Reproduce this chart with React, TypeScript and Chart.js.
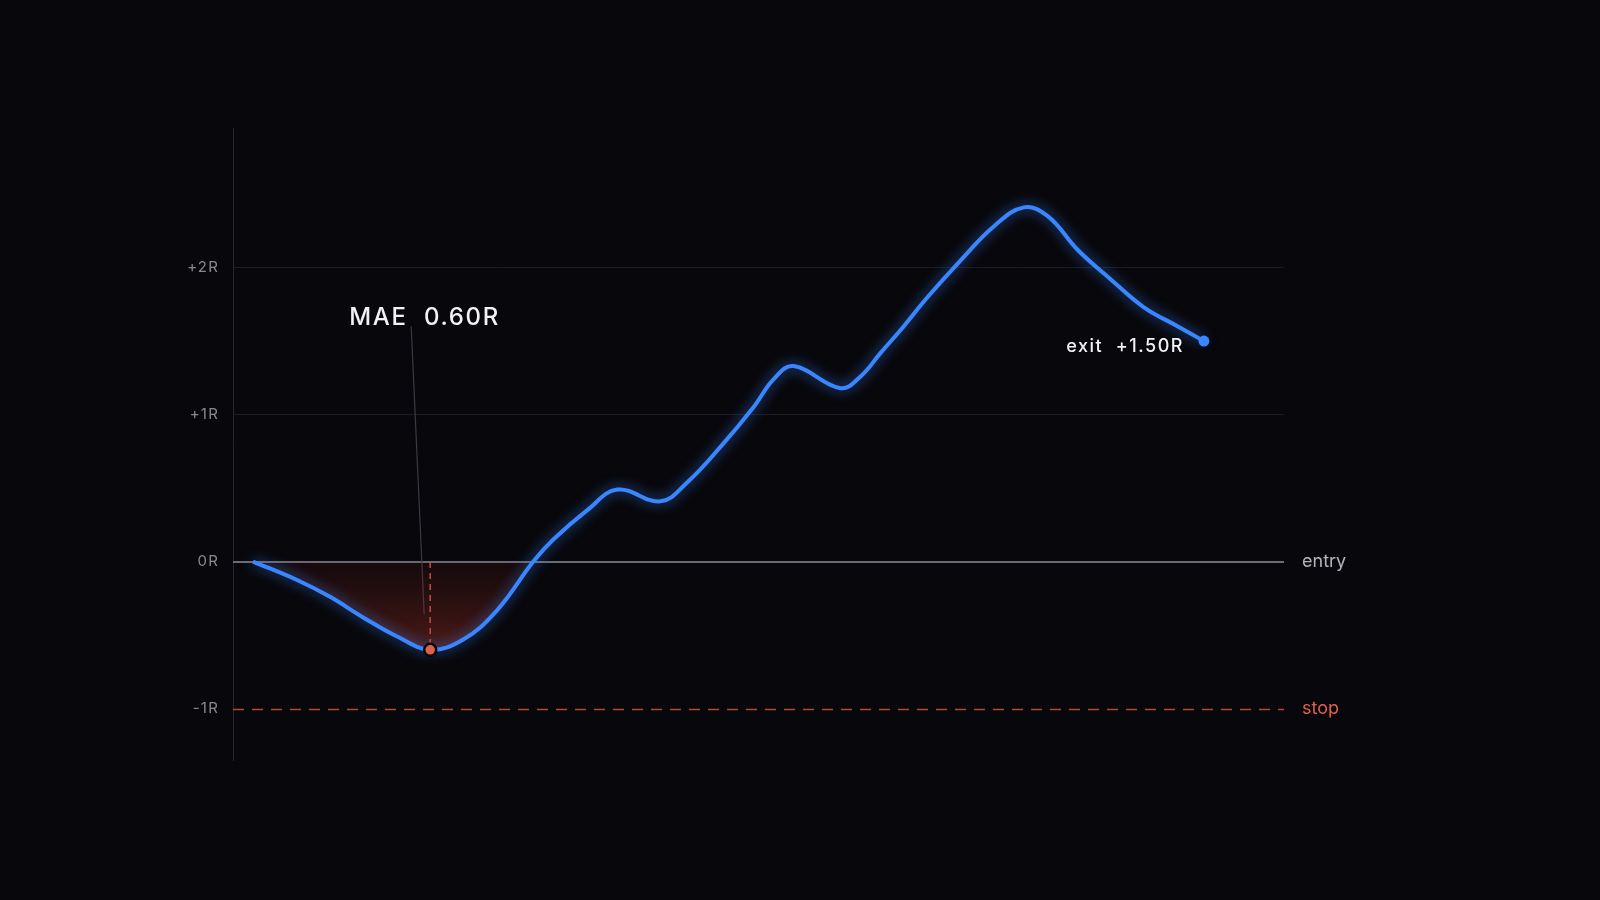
import React, { useEffect, useRef } from 'react';
import { Chart, registerables } from 'chart.js';

Chart.register(...registerables);

// Time axis (arbitrary units, trade progress) and R-multiple path
const times = [0, 4.4, 7.7, 11, 14.4, 17.7, 21, 24.4, 28, 30, 33.4, 36.4, 40.7, 43.4, 46.7, 50, 52, 54, 58.7, 60.7, 62.7, 65, 67.4, 70.7, 74, 77, 79.4, 82.4, 85.7, 89, 92.4, 95];
const rValues = [0, -0.125, -0.24, -0.38, -0.51, -0.6, -0.53, -0.33, 0, 0.15, 0.35, 0.49, 0.41, 0.54, 0.78, 1.05, 1.24, 1.33, 1.18, 1.26, 1.42, 1.6, 1.8, 2.05, 2.28, 2.41, 2.35, 2.12, 1.92, 1.73, 1.6, 1.5];

const yTickValues = [-1, 0, 1, 2];
const yTickLabels = ['-1R', '0R', '+1R', '+2R'];
const entryLevel = 0;
const stopLevel = -1;
const entryLabel = 'entry';
const stopLabel = 'stop';
const maeLabel = 'MAE  0.60R';
const exitLabel = 'exit  +1.50R';

const BG = '#08070b';
const BLUE = '#3a86ff';
const RED = '#e0604a';
const FONT = 'Inter, "Noto Sans", sans-serif';

export default function App() {
  const ref = useRef<HTMLCanvasElement | null>(null);

  useEffect(() => {
    const canvas = ref.current;
    if (!canvas) return;

    const pts = times.map((t, i) => ({ x: t, y: rValues[i] }));
    let minIdx = 0;
    rValues.forEach((v, i) => { if (v < rValues[minIdx]) minIdx = i; });
    const lastIdx = rValues.length - 1;
    const maePt = pts[minIdx];
    const exitPt = pts[lastIdx];

    const spacingPlugin = {
      id: 'spacing',
      beforeDraw(chart: any) { chart.ctx.save(); chart.ctx.letterSpacing = '1.2px'; },
      beforeDatasetsDraw(chart: any) { chart.ctx.restore(); },
    };

    const glowPlugin = {
      id: 'glow',
      beforeDatasetDraw(chart: any, args: any) {
        if (args.index === 0) {
          const ctx = chart.ctx;
          ctx.save();
          ctx.shadowColor = 'rgba(58,134,255,0.8)';
          ctx.shadowBlur = 13;
        }
      },
      afterDatasetDraw(chart: any, args: any) {
        if (args.index === 0) chart.ctx.restore();
      },
    };

    const annoPlugin = {
      id: 'anno',
      beforeDatasetsDraw(chart: any) {
        const { ctx, chartArea, scales } = chart;
        const x = scales.x, y = scales.y;
        ctx.save();
        // entry line
        const yE = Math.round(y.getPixelForValue(entryLevel));
        ctx.strokeStyle = '#6c6c76';
        ctx.lineWidth = 2;
        ctx.beginPath();
        ctx.moveTo(chartArea.left, yE);
        ctx.lineTo(chartArea.right, yE);
        ctx.stroke();
        // stop line
        const yS = Math.round(y.getPixelForValue(stopLevel)) + 0.5;
        ctx.strokeStyle = '#b4463a';
        ctx.lineWidth = 1.5;
        ctx.setLineDash([11, 8]);
        ctx.beginPath();
        ctx.moveTo(chartArea.left, yS);
        ctx.lineTo(chartArea.right, yS);
        ctx.stroke();
        // MAE vertical dashed
        const xm = x.getPixelForValue(maePt.x);
        ctx.strokeStyle = '#d05a44';
        ctx.lineWidth = 1.5;
        ctx.setLineDash([6, 5]);
        ctx.beginPath();
        ctx.moveTo(xm, yE);
        ctx.lineTo(xm, y.getPixelForValue(maePt.y));
        ctx.stroke();
        ctx.setLineDash([]);
        // leader line
        ctx.strokeStyle = '#3a3a44';
        ctx.lineWidth = 1.2;
        ctx.beginPath();
        ctx.moveTo(xm - 19, y.getPixelForValue(1.6));
        ctx.lineTo(xm - 6, y.getPixelForValue(-0.36));
        ctx.stroke();
        ctx.restore();
      },
      afterDatasetsDraw(chart: any) {
        const { ctx, chartArea, scales } = chart;
        const x = scales.x, y = scales.y;
        ctx.save();
        ctx.textBaseline = 'middle';
        ctx.textAlign = 'left';
        ctx.font = `400 18px ${FONT}`;
        ctx.fillStyle = '#b4b4bc';
        ctx.fillText(entryLabel, chartArea.right + 18, y.getPixelForValue(entryLevel));
        ctx.fillStyle = RED;
        ctx.fillText(stopLabel, chartArea.right + 18, y.getPixelForValue(stopLevel));
        // MAE label
        const xm = x.getPixelForValue(maePt.x);
        ctx.font = `500 24px ${FONT}`;
        (ctx as any).letterSpacing = '1.7px';
        ctx.fillStyle = '#f2f2f4';
        ctx.fillText(maeLabel, xm - 81, y.getPixelForValue(1.66));
        // exit label
        const xe = x.getPixelForValue(exitPt.x);
        ctx.font = `500 18px ${FONT}`;
        (ctx as any).letterSpacing = '1.5px';
        ctx.textAlign = 'right';
        ctx.fillText(exitLabel, xe - 20, y.getPixelForValue(exitPt.y) + 5);
        ctx.restore();
      },
    };

    const chart = new Chart(canvas, {
      type: 'line',
      data: {
        datasets: [
          {
            data: pts,
            borderColor: BLUE,
            borderWidth: 4,
            pointRadius: 0,
            tension: 0.4,
            fill: { target: { value: 0 }, above: 'rgba(0,0,0,0)', below: 'rgba(150,45,35,0.25)' },
            order: 2,
          } as any,
          {
            data: [maePt],
            pointRadius: 6,
            pointBackgroundColor: RED,
            pointBorderColor: BG,
            pointBorderWidth: 2.5,
            showLine: false,
            order: 1,
          },
          {
            data: [exitPt],
            pointRadius: 5.5,
            pointBackgroundColor: BLUE,
            pointBorderWidth: 0,
            showLine: false,
            order: 1,
          },
        ],
      },
      options: {
        responsive: false,
        animation: false,
        layout: { padding: { left: 0, right: 316, top: 128, bottom: 140 } },
        plugins: { legend: { display: false }, tooltip: { enabled: false } },
        scales: {
          x: { type: 'linear', min: -2, max: 103, display: false },
          y: {
            type: 'linear',
            min: -1.35,
            max: 2.95,
            afterFit(scale: any) { scale.width = 233; },
            afterBuildTicks(scale: any) { scale.ticks = yTickValues.map((v) => ({ value: v })); },
            ticks: {
              padding: 14,
              color: '#88888f',
              font: { family: FONT, size: 15 },
              callback: (v: any) => {
                const i = yTickValues.indexOf(Number(v));
                return i >= 0 ? yTickLabels[i] : '';
              },
            },
            grid: {
              drawTicks: false,
              lineWidth: 1,
              color: (c: any) => (c.tick && (c.tick.value === 0 || c.tick.value === -1) ? 'rgba(0,0,0,0)' : '#1c1c22'),
            },
            border: { display: true, color: '#26262e', width: 1 },
          },
        },
      },
      plugins: [spacingPlugin, glowPlugin, annoPlugin],
    } as any);

    // gradient for the drawdown fill
    const ctx = canvas.getContext('2d')!;
    const y0 = chart.scales.y.getPixelForValue(0);
    const y1 = chart.scales.y.getPixelForValue(maePt.y);
    const g = ctx.createLinearGradient(0, y0, 0, y1);
    g.addColorStop(0, 'rgba(120,35,28,0.12)');
    g.addColorStop(1, 'rgba(170,55,40,0.42)');
    (chart.data.datasets[0] as any).fill.below = g;
    chart.update();

    return () => chart.destroy();
  }, []);

  return (
    <div style={{ position: 'fixed', left: 0, top: 0, width: 1600, height: 900, background: BG }}>
      <canvas ref={ref} width={1600} height={900} style={{ display: 'block', width: 1600, height: 900 }} />
    </div>
  );
}
